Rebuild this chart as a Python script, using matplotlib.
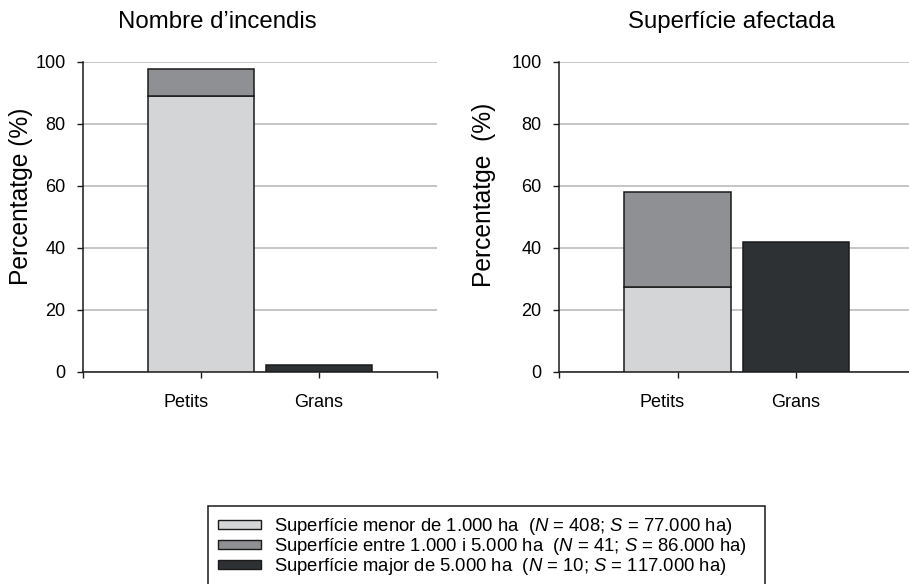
import numpy as np
import matplotlib
matplotlib.use("Agg")
import matplotlib.pyplot as plt
from matplotlib.patches import Patch
from matplotlib.transforms import ScaledTranslation

plt.rcParams['font.family'] = ['Liberation Sans', 'DejaVu Sans']
plt.rcParams['mathtext.fontset'] = 'custom'
plt.rcParams['mathtext.rm'] = 'Liberation Sans'
plt.rcParams['mathtext.it'] = 'Liberation Sans:italic'

categories = ['Petits', 'Grans']
incendis_menor = [88.9, 0.0]
incendis_entre = [8.9, 0.0]
incendis_major = [0.0, 2.2]
sup_menor = [27.5, 0.0]
sup_entre = [30.7, 0.0]
sup_major = [0.0, 41.8]
titles = ["Nombre d\u2019incendis", "Superf\u00edcie afectada"]
ylabels = ["Percentatge (%)", "Percentatge  (%)"]
legend_labels = [
    "Superf\u00edcie menor de 1.000 ha  ($N$ = 408; $S$ = 77.000 ha)",
    "Superf\u00edcie entre 1.000 i 5.000 ha  ($N$ = 41; $S$ = 86.000 ha)",
    "Superf\u00edcie major de 5.000 ha  ($N$ = 10; $S$ = 117.000 ha)",
]
colors = ['#d4d5d7', '#8f9094', '#2e3134']
edge = '#1a1a1a'

W, H = 909, 584
fig = plt.figure(figsize=(W / 100, H / 100), dpi=100)

def px_ax(x0, y0, x1, y1):
    return fig.add_axes([x0 / W, 1 - y1 / H, (x1 - x0) / W, (y1 - y0) / H])

axes = [px_ax(83, 62, 437, 372), px_ax(559, 62, 914.5, 372)]
data = [(incendis_menor, incendis_entre, incendis_major),
        (sup_menor, sup_entre, sup_major)]
title_x = [217.5, 731.5]
ylab_x = [21, 484]
ylab_y = [196, 194.5]

xpos = np.arange(1, len(categories) + 1)
for i, ax in enumerate(axes):
    bottom = np.zeros(len(categories))
    for series, c in zip(data[i], colors):
        vals = np.array(series)
        m = vals > 0
        ax.bar(xpos[m], vals[m], width=0.9, bottom=bottom[m], color=c,
               edgecolor=edge, linewidth=1.1, zorder=3)
        bottom = bottom + vals
    ax.set_xlim(0, 3)
    ax.set_ylim(0, 100)
    ax.set_yticks([0, 20, 40, 60, 80, 100])
    ax.yaxis.grid(True, color='#c0c0c0', linewidth=1.3)
    ax.set_axisbelow(True)
    for s in ['top', 'right']:
        ax.spines[s].set_visible(False)
    for s in ['left', 'bottom']:
        ax.spines[s].set_color('#1a1a1a')
        ax.spines[s].set_linewidth(1.1)
    ax.tick_params(axis='y', direction='out', length=4.5, width=1.0,
                   pad=8, labelsize=13, color='#1a1a1a')
    ax.tick_params(axis='x', direction='out', length=4.5, width=1.0,
                   pad=11, labelsize=13, color='#1a1a1a')
    ax.set_xticks([0, 1, 2, 3])
    ax.set_xticklabels([''] + categories + [''])
    lbl = ax.get_xticklabels()[1]
    lbl.set_transform(lbl.get_transform() + ScaledTranslation(-0.15, 0, fig.dpi_scale_trans))
    fig.text(title_x[i] / W, 1 - 28 / H, titles[i], ha='center', va='baseline',
             fontsize=17.3)
    fig.text(ylab_x[i] / W, 1 - ylab_y[i] / H, ylabels[i], rotation=90,
             ha='center', va='center', fontsize=17.7)

handles = [Patch(facecolor=c, edgecolor=edge, linewidth=1.0) for c in colors]
leg = fig.legend(handles, legend_labels, loc='upper left',
                 bbox_to_anchor=(208 / W, 0, (765 - 208) / W, 1 - 506 / H),
                 mode='expand', borderaxespad=0, fontsize=13.3,
                 handlelength=2.3, handleheight=0.4, handletextpad=0.7,
                 labelspacing=-0.05, borderpad=0.55, fancybox=False,
                 framealpha=1, edgecolor='#1a1a1a')
leg.get_frame().set_linewidth(1.1)

fig.savefig('out.png', dpi=100)
